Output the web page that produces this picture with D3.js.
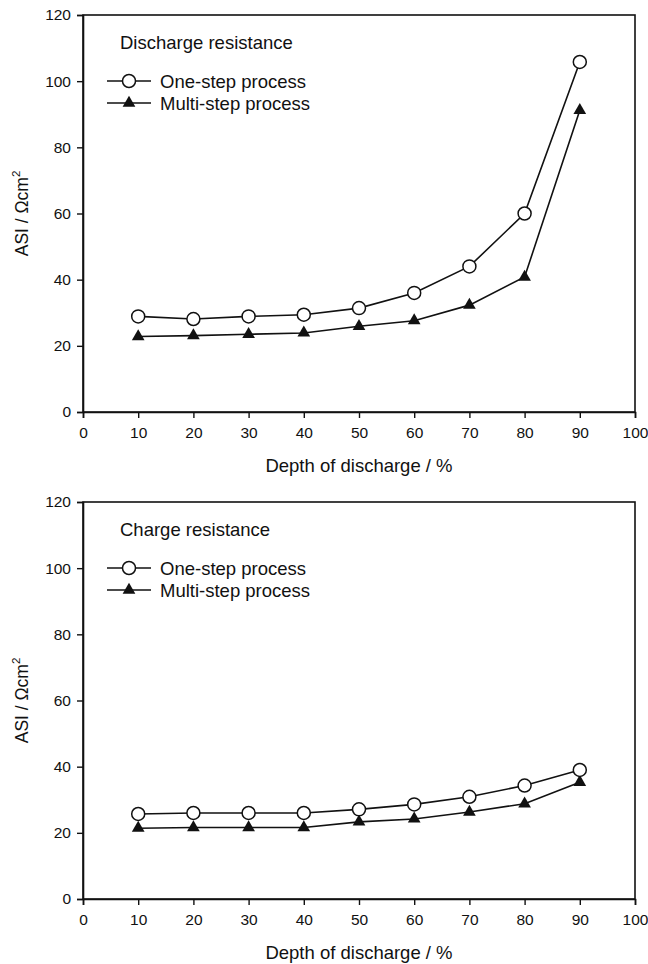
<!DOCTYPE html>
<html>
<head>
<meta charset="utf-8">
<script src="https://cdn.jsdelivr.net/npm/d3@7"></script>
<style>
  body { margin: 0; background: #fff; }
  text { font-family: "Liberation Sans", Arial, sans-serif; fill: #111; }
</style>
</head>
<body>
<svg id="chart" width="648" height="964"></svg>
<script>
// depth of discharge (%)
const depth = [10, 20, 30, 40, 50, 60, 70, 80, 90];

// discharge resistance, ASI in ohm cm2
const dischargeOneStep = [28.9, 28.1, 28.9, 29.4, 31.4, 36.0, 44.0, 60.0, 105.8];
const dischargeMultiStep = [22.8, 23.1, 23.5, 23.9, 25.9, 27.6, 32.3, 40.8, 91.2];

// charge resistance
const chargeOneStep = [25.7, 26.0, 26.0, 26.0, 27.1, 28.6, 30.9, 34.3, 39.0];
const chargeMultiStep = [21.4, 21.6, 21.6, 21.6, 23.3, 24.2, 26.3, 28.8, 35.3];

const xTicks = [0, 10, 20, 30, 40, 50, 60, 70, 80, 90, 100];
const yTicks = [0, 20, 40, 60, 80, 100, 120];
const seriesNames = ["One-step process", "Multi-step process"];

const svg = d3.select("#chart");
const left = 83, right = 635;

function drawPanel(top, bottom, title, oneStep, multiStep) {
    const x = d3.scaleLinear().domain([0, 100]).range([left, right]);
    const y = d3.scaleLinear().domain([0, 120]).range([bottom, top]);
    const g = svg.append("g");

    // frame
    g.append("rect").attr("x", left).attr("y", top)
        .attr("width", right - left).attr("height", bottom - top)
        .attr("fill", "none").attr("stroke", "#111").attr("stroke-width", 1.6);

    const xAxis = g.append("g").attr("transform", `translate(0,${bottom})`)
        .call(d3.axisBottom(x).tickValues(xTicks).tickSize(6).tickPadding(9));
    const yAxis = g.append("g").attr("transform", `translate(${left},0)`)
        .call(d3.axisLeft(y).tickValues(yTicks).tickSize(6).tickPadding(6));
    [xAxis, yAxis].forEach(a => {
        a.select(".domain").attr("stroke", "#111").attr("stroke-width", 1.6);
        a.selectAll(".tick line").attr("stroke", "#111").attr("stroke-width", 1.4);
        a.selectAll(".tick text").attr("font-size", 15.5).attr("fill", "#111")
            .style("font-family", "'Liberation Sans', Arial, sans-serif");
    });

    g.append("text").attr("x", (left + right) / 2).attr("y", bottom + 60)
        .attr("text-anchor", "middle").attr("font-size", 18.5)
        .text("Depth of discharge / %");

    const yl = g.append("text")
        .attr("transform", `translate(28,${(top + bottom) / 2}) rotate(-90)`)
        .attr("text-anchor", "middle").attr("font-size", 17.5);
    yl.append("tspan").text("ASI / Ωcm");
    yl.append("tspan").attr("font-size", 11.5).attr("dy", -8).text("2");

    const line = d3.line().x((d, i) => x(depth[i])).y(d => y(d));
    const tri = d3.symbol().type(d3.symbolTriangle).size(70);

    // lines
    [oneStep, multiStep].forEach(s => {
        g.append("path").datum(s).attr("d", line)
            .attr("fill", "none").attr("stroke", "#111").attr("stroke-width", 1.6);
    });

    g.selectAll(".tri").data(multiStep).enter().append("path")
        .attr("transform", (d, i) => `translate(${x(depth[i])},${y(d)})`)
        .attr("d", tri).attr("fill", "#111");

    g.selectAll(".circ").data(oneStep).enter().append("circle")
        .attr("cx", (d, i) => x(depth[i])).attr("cy", d => y(d)).attr("r", 6.5)
        .attr("fill", "#fff").attr("stroke", "#111").attr("stroke-width", 1.5);

    // legend
    g.append("text").attr("x", 120).attr("y", top + 34).attr("font-size", 18.5).text(title);
    const ly = [top + 66, top + 88];
    ly.forEach((yy, k) => {
        g.append("line").attr("x1", 107).attr("x2", 151).attr("y1", yy).attr("y2", yy)
            .attr("stroke", "#111").attr("stroke-width", 1.6);
        if (k === 0) {
            g.append("circle").attr("cx", 129).attr("cy", yy).attr("r", 6.5)
                .attr("fill", "#fff").attr("stroke", "#111").attr("stroke-width", 1.5);
        } else {
            g.append("path").attr("transform", `translate(129,${yy})`)
                .attr("d", tri).attr("fill", "#111");
        }
        g.append("text").attr("x", 160).attr("y", yy + 7).attr("font-size", 18.5).text(seriesNames[k]);
    });
}

drawPanel(15, 412, "Discharge resistance", dischargeOneStep, dischargeMultiStep);
drawPanel(502, 899, "Charge resistance", chargeOneStep, chargeMultiStep);
</script>
</body>
</html>
